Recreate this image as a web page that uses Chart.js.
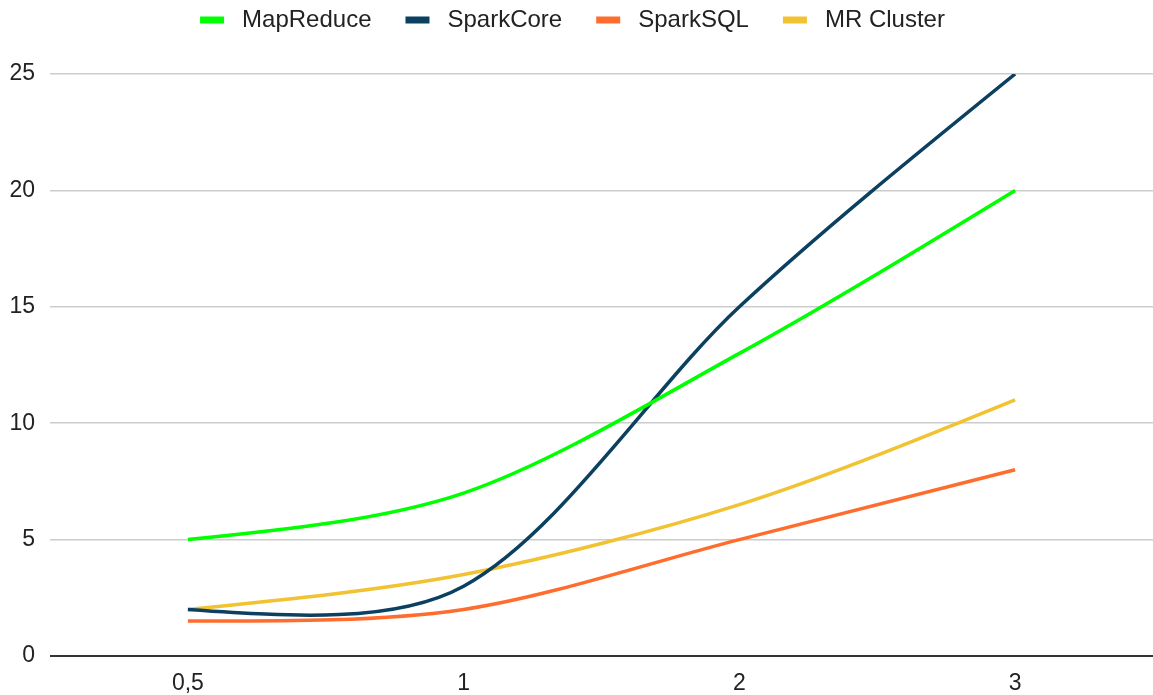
<!DOCTYPE html>
<html>
<head>
<meta charset="utf-8">
<script src="https://cdn.jsdelivr.net/npm/chart.js"></script>
<style>
  html, body { margin: 0; padding: 0; background: #fff; }
  #wrap { width: 1153px; height: 695px; }
</style>
</head>
<body>
<div id="wrap"><canvas id="chart" width="1153" height="695"></canvas></div>
<script>
const categories = ['0,5', '1', '2', '3'];
const mapReduce = [5, 7, 13, 20];
const sparkCore = [2, 3, 15, 25];
const sparkSQL = [1.5, 2, 5, 8];
const mrCluster = [2, 3.5, 6.5, 11];
const seriesNames = ['MapReduce', 'SparkCore', 'SparkSQL', 'MR Cluster'];
const colors = ['#00ff00', '#0b4061', '#ff6d2e', '#f1c232'];
const FONT = '"Liberation Sans", Arial, sans-serif';

// legend drawn by hand so the box/text/item gaps match the original
const topLegend = {
  id: 'topLegend',
  afterDraw(chart) {
    const ctx = chart.ctx;
    ctx.save();
    ctx.font = '24px ' + FONT;
    const boxW = 24, boxH = 7, gap = 18, itemGap = 34;
    const items = chart.data.datasets.map(ds => ({
      text: ds.label, color: ds.borderColor, w: boxW + gap + ctx.measureText(ds.label).width
    }));
    const total = items.reduce((s, it) => s + it.w, 0) + itemGap * (items.length - 1);
    let x = (chart.width - total) / 2 - 4;
    const cy = 20;
    items.forEach(it => {
      ctx.fillStyle = it.color;
      ctx.fillRect(x, cy - boxH / 2, boxW, boxH);
      ctx.fillStyle = '#222';
      ctx.textBaseline = 'middle';
      ctx.fillText(it.text, x + boxW + gap, cy);
      x += it.w + itemGap;
    });
    ctx.restore();
  }
};

// natural end conditions for the smoothed lines (first/last control point
// half way to the neighbour's control point), like the spreadsheet curves
const naturalEnds = {
  id: 'naturalEnds',
  beforeDatasetsDraw(chart) {
    chart.data.datasets.forEach((ds, i) => {
      const meta = chart.getDatasetMeta(i);
      const line = meta.dataset;
      line.updateControlPoints(chart.chartArea, 'x');
      const pts = meta.data;
      const n = pts.length;
      if (n < 3) return;
      const a = pts[0], b = pts[1];
      a.cp2x = (a.x + b.cp1x) / 2;
      a.cp2y = (a.y + b.cp1y) / 2;
      const z = pts[n - 1], y = pts[n - 2];
      z.cp1x = (z.x + y.cp2x) / 2;
      z.cp1y = (z.y + y.cp2y) / 2;
      line._path = undefined;
    });
  }
};

const datasets = [mapReduce, sparkCore, sparkSQL, mrCluster].map((vals, i) => ({
  label: seriesNames[i],
  data: vals,
  borderColor: colors[i],
  backgroundColor: colors[i],
  borderWidth: 3.5,
  pointRadius: 0,
  tension: 0.3,
  fill: false
}));

new Chart(document.getElementById('chart'), {
  type: 'line',
  data: { labels: categories, datasets },
  options: {
    responsive: false,
    animation: false,
    layout: { padding: { top: 74, left: 10, right: 0, bottom: 0 } },
    plugins: { legend: { display: false }, tooltip: { enabled: false } },
    scales: {
      x: {
        offset: true,
        grid: { display: false, drawTicks: false },
        border: { display: false },
        ticks: { color: '#222', padding: 14, maxRotation: 0, font: { family: FONT, size: 23 } },
        afterFit: s => { s.height = 39; }
      },
      y: {
        min: 0, max: 25,
        border: { display: false },
        grid: {
          drawTicks: false,
          color: c => c.tick && c.tick.value === 0 ? '#333' : '#cccccc',
          lineWidth: c => c.tick && c.tick.value === 0 ? 2 : 1.5
        },
        ticks: { stepSize: 5, color: '#222', padding: 15, font: { family: FONT, size: 23 } },
        afterFit: s => { s.width = 40; }
      }
    }
  },
  plugins: [naturalEnds, topLegend]
});
</script>
</body>
</html>
